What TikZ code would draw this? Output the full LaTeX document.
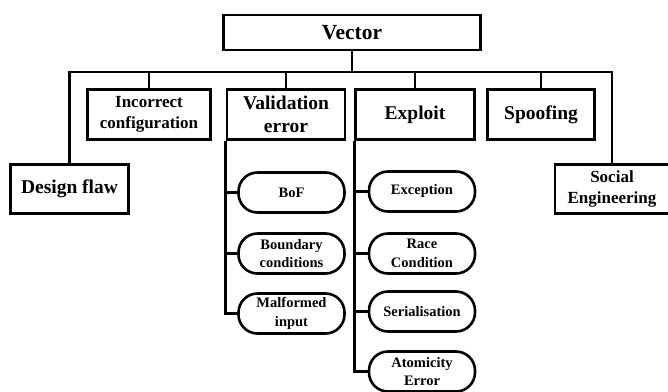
\documentclass[tikz,border=0pt]{standalone}
\usepackage{fontspec}
\setmainfont{Liberation Serif}
\begin{document}
\begin{tikzpicture}[x=1pt,y=-1pt,
  line width=2.6pt,
  box/.style={draw, rectangle, align=center, inner sep=1pt,
    font=\bfseries\fontsize{19.5}{23}\selectfont},
  smallbox/.style={box, font=\bfseries\fontsize{17}{21.5}\selectfont},
  pill/.style={draw, rectangle, rounded corners=19pt, align=center,
    minimum width=106pt, minimum height=40pt, inner sep=1pt,
    font=\bfseries\fontsize{14.5}{18.5}\selectfont},
  link/.style={draw, line width=2.6pt}]
\useasboundingbox (0,0) rectangle (668,391);

% root
\node[box, font=\bfseries\fontsize{21.5}{25}\selectfont,
  minimum width=257pt, minimum height=35pt] (vector) at (352,32.5) {Vector};

% first level
\node[box, minimum width=118pt, minimum height=49pt] (design) at (69.5,189) {Design flaw};
\node[smallbox, minimum width=123pt, minimum height=50pt] (incorrect) at (149,114.5) {Incorrect\\configuration};
\node[box, minimum width=118pt, minimum height=50pt] (valid) at (286,114.5) {Validation\\error};
\node[box, minimum width=119pt, minimum height=50pt] (exploit) at (415,114.5) {Exploit};
\node[box, minimum width=107pt, minimum height=50pt] (spoof) at (541,114.5) {Spoofing};
\node[smallbox, minimum width=114pt, minimum height=49pt] (social) at (612,189) {Social\\Engineering};

% bus under the root
\coordinate (bus) at (352,72);
\draw[link] (vector.south) -- (bus);
\draw[link] (design.north) -- (design.north |- bus) -- (social.north |- bus) -- (social.north);
\draw[link] (incorrect.north) -- (incorrect.north |- bus);
\draw[link] (valid.north) -- (valid.north |- bus);
\draw[link] (exploit.north) -- (exploit.north |- bus);
\draw[link] (spoof.north) -- (spoof.north |- bus);

% validation error children
\node[pill] (bof) at (291.5,192.5) {BoF};
\node[pill] (bound) at (291.5,253.5) {Boundary\\conditions};
\node[pill] (malf) at (291.5,313.5) {Malformed\\input};
\draw[link] (valid.south west) |- (malf.west);
\draw[link] (valid.south west |- bof.west) -- (bof.west);
\draw[link] (valid.south west |- bound.west) -- (bound.west);

% exploit children
\node[pill] (exc) at (422,191.5) {Exception};
\node[pill] (race) at (422,253.5) {Race\\Condition};
\node[pill] (serial) at (422,311.5) {Serialisation};
\node[pill] (atom) at (422,371.5) {Atomicity\\Error};
\draw[link] (exploit.south west) |- (atom.west);
\draw[link] (exploit.south west |- exc.west) -- (exc.west);
\draw[link] (exploit.south west |- race.west) -- (race.west);
\draw[link] (exploit.south west |- serial.west) -- (serial.west);
\end{tikzpicture}
\end{document}
